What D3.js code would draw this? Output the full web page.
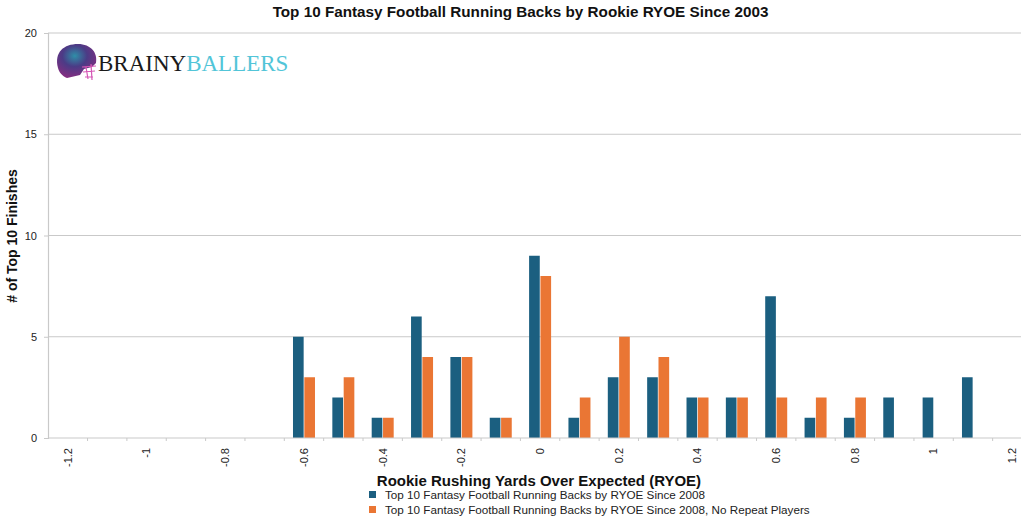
<!DOCTYPE html>
<html><head><meta charset="utf-8">
<script src="https://cdn.jsdelivr.net/npm/d3@7"></script>
<style>
html,body{margin:0;padding:0;background:#fff;}
svg{display:block;font-family:"Liberation Sans",Arial,Helvetica,sans-serif;}
</style></head>
<body><svg id="c" width="1024" height="517"></svg>
<script>
const categories = ["-1.2","-1.1","-1","-0.9","-0.8","-0.7","-0.6","-0.5","-0.4","-0.3","-0.2","-0.1","0","0.1","0.2","0.3","0.4","0.5","0.6","0.7","0.8","0.9","1","1.1","1.2"];
const tickLabels = ["-1.2","-1","-0.8","-0.6","-0.4","-0.2","0","0.2","0.4","0.6","0.8","1","1.2"];
const seriesAll = [0,0,0,0,0,0,5,2,1,6,4,1,9,1,3,3,2,2,7,1,1,2,2,3,0];
const seriesNoRepeat = [0,0,0,0,0,0,3,3,1,4,4,1,8,2,5,4,2,2,2,2,2,0,0,0,0];
const seriesNames = ["Top 10 Fantasy Football Running Backs by RYOE Since 2008","Top 10 Fantasy Football Running Backs by RYOE Since 2008, No Repeat Players"];
const yTicks = [0,5,10,15,20];
const colors = ["#1b5f80","#ea7634"];

const svg = d3.select("#c");
const L = 48, R = 1021, T = 33, B = 438;

const x = d3.scaleBand().domain(categories).range([48.2, 1032]);
const y = d3.scaleLinear().domain([0, 20]).range([B, T]);
const x1 = d3.scaleBand().domain([0,1]).range([-11, 11]).paddingInner(0.06);

// grid
svg.append("g").selectAll("line").data(yTicks.filter(d=>d>0)).join("line")
  .attr("x1", L).attr("x2", R).attr("y1", d=>y(d)).attr("y2", d=>y(d))
  .attr("stroke", "#c9c9c9").attr("stroke-width", 1.2);

// y axis
const yAxis = svg.append("g").attr("transform", `translate(${L},0)`)
  .call(d3.axisLeft(y).tickValues(yTicks).tickSize(4).tickPadding(7));
yAxis.select(".domain").attr("stroke", "#c9c9c9").attr("stroke-width", 1.2);
yAxis.selectAll(".tick line").attr("stroke", "#c9c9c9");
yAxis.selectAll("text").attr("font-size", 11).attr("fill", "#222").attr("font-family","Liberation Sans, Arial, sans-serif");

// bars
const data = categories.map((c,i)=>({c, v:[seriesAll[i], seriesNoRepeat[i]]}));
const g = svg.append("g");
data.forEach(d=>{
  d.v.forEach((v,k)=>{
    if (v>0) g.append("rect")
      .attr("x", x(d.c) + x.bandwidth()/2 + x1(k))
      .attr("width", x1.bandwidth())
      .attr("y", y(v)).attr("height", y(0)-y(v))
      .attr("fill", colors[k]);
  });
});

// x axis
const xAxisG = svg.append("g").attr("transform", `translate(0,${B})`);
xAxisG.append("line").attr("x1", L).attr("x2", R).attr("stroke", "#c9c9c9").attr("stroke-width", 1.2);
xAxisG.selectAll("line.bt").data(categories.slice(1)).join("line").attr("class","bt")
  .attr("x1", d=>x(d)).attr("x2", d=>x(d)).attr("y1", 0).attr("y2", 3).attr("stroke", "#c9c9c9");
xAxisG.selectAll("text").data(tickLabels).join("text")
  .attr("transform", d=>`translate(${x(d)+x.bandwidth()/2},10) rotate(-90)`)
  .attr("dy", "0.35em")
  .attr("text-anchor", "end").attr("font-size", 11).attr("fill", "#222").text(d=>d);

// title
svg.append("text").attr("x", 520.5).attr("y", 17).attr("text-anchor","middle")
  .attr("font-size", 15.25).attr("font-weight","bold").attr("fill","#111")
  .text("Top 10 Fantasy Football Running Backs by Rookie RYOE Since 2003");

// y title
svg.append("text").attr("transform","translate(17,236) rotate(-90)").attr("text-anchor","middle")
  .attr("font-size", 14).attr("font-weight","bold").attr("fill","#111").text("# of Top 10 Finishes");

// x title
svg.append("text").attr("x", 539).attr("y", 486).attr("text-anchor","middle")
  .attr("font-size", 15).attr("font-weight","bold").attr("fill","#111")
  .text("Rookie Rushing Yards Over Expected (RYOE)");

// legend
seriesNames.forEach((n,i)=>{
  svg.append("rect").attr("x", 369).attr("y", 491+i*15).attr("width", 7).attr("height", 7).attr("fill", colors[i]);
  svg.append("text").attr("x", 385).attr("y", 499+i*15).attr("font-size", 11.7).attr("fill","#222").text(n);
});

// logo
const defs = svg.append("defs");
const rg = defs.append("radialGradient").attr("id","hg").attr("cx","45%").attr("cy","35%").attr("r","70%");
rg.append("stop").attr("offset","0%").attr("stop-color","#2f8fa8");
rg.append("stop").attr("offset","45%").attr("stop-color","#4b3b86");
rg.append("stop").attr("offset","100%").attr("stop-color","#8b2c80");
const logo = svg.append("g");
logo.append("path").attr("d","M58,68 C54,52 64,44 78,44 C91,44 98,53 96,63 L92,67 L84,69 L80,75 L67,78 C62,76 59,72 58,68 Z")
  .attr("fill","url(#hg)");
logo.append("path").attr("d","M82,67 L96,66 M83,72 L95,71 M85,77 L93,77 M91,64 L92,80 M86,67 L88,79")
  .attr("stroke","#d657b6").attr("stroke-width",1.2).attr("fill","none");
logo.append("text").attr("x", 98).attr("y", 71).attr("font-family","Liberation Serif, serif").attr("font-size", 23)
  .attr("fill","#1a1a1a").text("BRAINY")
  .append("tspan").attr("fill","#52c5d8").text("BALLERS");
</script></body></html>
